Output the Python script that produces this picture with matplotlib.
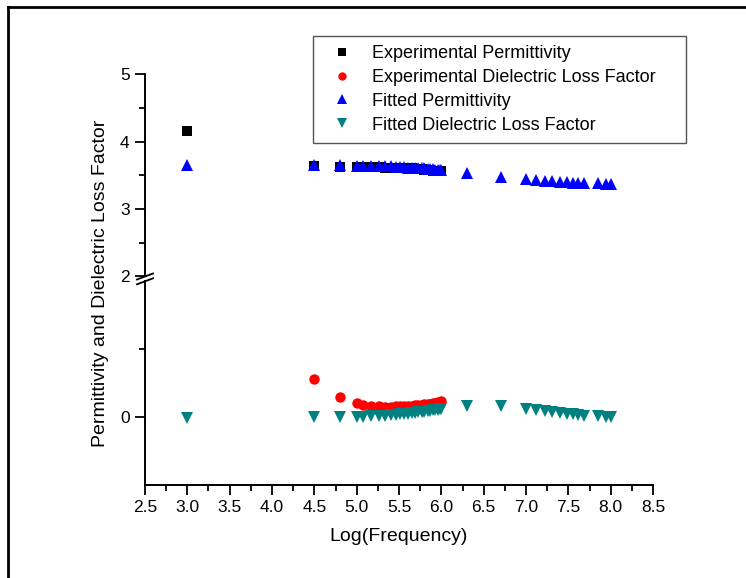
import numpy as np
import matplotlib
matplotlib.use("Agg")
import matplotlib.pyplot as plt
from matplotlib.lines import Line2D
from matplotlib.ticker import MultipleLocator, FixedLocator

plt.rcParams["font.family"] = ["Liberation Sans", "DejaVu Sans"]

# log10 of frequency
x_exp = [3.0, 4.5, 4.8, 5.0, 5.08, 5.17, 5.26, 5.34, 5.40, 5.46, 5.51, 5.56,
         5.61, 5.65, 5.69, 5.73, 5.77, 5.80, 5.84, 5.87, 5.90, 5.93, 5.96, 5.98, 6.0]
x_fit = x_exp + [6.3, 6.7, 7.0, 7.12, 7.22, 7.31, 7.40, 7.48, 7.56, 7.62, 7.69,
                 7.85, 7.95, 8.0]

exp_perm = [4.15, 3.63, 3.62, 3.62, 3.62, 3.62, 3.62, 3.61, 3.61, 3.61, 3.61, 3.60,
            3.60, 3.60, 3.59, 3.59, 3.59, 3.58, 3.58, 3.58, 3.57, 3.57, 3.57, 3.56, 3.56]
exp_loss = [np.nan, 0.28, 0.15, 0.107, 0.09, 0.082, 0.079, 0.078, 0.078, 0.079, 0.080,
            0.081, 0.083, 0.085, 0.087, 0.089, 0.092, 0.094, 0.097, 0.100, 0.103,
            0.106, 0.110, 0.113, 0.117]
fit_perm = [3.65, 3.65, 3.65, 3.64, 3.64, 3.64, 3.63, 3.63, 3.63, 3.62, 3.62, 3.62,
            3.61, 3.61, 3.61, 3.60, 3.60, 3.60, 3.59, 3.59, 3.59, 3.58, 3.58, 3.58, 3.58,
            3.54, 3.47, 3.44, 3.43, 3.42, 3.41, 3.40, 3.40, 3.39, 3.39, 3.38, 3.38,
            3.37, 3.37]
fit_loss = [-0.01, 0.0, 0.0, 0.0, 0.002, 0.005, 0.008, 0.011, 0.014, 0.017, 0.020,
            0.023, 0.026, 0.029, 0.032, 0.035, 0.038, 0.041, 0.044, 0.047, 0.050,
            0.053, 0.055, 0.058, 0.060,
            0.08, 0.08, 0.06, 0.052, 0.045, 0.040, 0.032, 0.026, 0.020, 0.015, 0.010,
            0.005, 0.0, 0.0]

W, H = 746, 578
fig = plt.figure(figsize=(W / 100, H / 100), dpi=100)

def rect(x0, y0, x1, y1):
    return [x0 / W, 1 - y1 / H, (x1 - x0) / W, (y1 - y0) / H]

ax_top = fig.add_axes(rect(145, 74, 653, 276.5))
ax_bot = fig.add_axes(rect(145, 281.3, 653, 485))

styles = [
    ("Experimental Permittivity", "s", "black", 6.5),
    ("Experimental Dielectric Loss Factor", "o", "red", 7.5),
    ("Fitted Permittivity", "^", "blue", 9),
    ("Fitted Dielectric Loss Factor", "v", "#008080", 9),
]
series = [(x_exp, exp_perm), (x_exp, exp_loss), (x_fit, fit_perm), (x_fit, fit_loss)]

handles = []
for (lab, m, c, ms), (xs, ys) in zip(styles, series):
    for ax in (ax_top, ax_bot):
        h, = ax.plot(xs, ys, ls="none", marker=m, color=c, ms=ms,
                     markeredgewidth=0, label=lab)
    handles.append(h)

ax_top.set_ylim(2, 5)
ax_bot.set_ylim(-0.5, 1.0)
for ax in (ax_top, ax_bot):
    ax.set_xlim(2.5, 8.5)
    ax.patch.set_visible(False)
    ax.spines[["top", "right"]].set_visible(False)
    ax.spines["left"].set_linewidth(1.4)
    ax.spines["bottom"].set_linewidth(1.4)
    ax.tick_params(which="major", direction="out", length=7, width=1.3,
                   labelsize=12.5, pad=4)
    ax.tick_params(which="minor", direction="out", length=4, width=1.3)

ax_top.spines["bottom"].set_visible(False)
ax_top.tick_params(axis="x", which="both", bottom=False, labelbottom=False)
ax_top.yaxis.set_major_locator(FixedLocator([2, 3, 4, 5]))
ax_top.yaxis.set_minor_locator(FixedLocator([2.5, 3.5, 4.5]))

ax_bot.yaxis.set_major_locator(FixedLocator([0]))
ax_bot.yaxis.set_minor_locator(FixedLocator([0.5]))
ax_bot.xaxis.set_major_locator(MultipleLocator(0.5))
ax_bot.xaxis.set_minor_locator(MultipleLocator(0.25))
ax_bot.xaxis.set_major_formatter(matplotlib.ticker.FormatStrFormatter("%.1f"))
ax_bot.set_xlabel("Log(Frequency)", fontsize=14, labelpad=9)

fig.text(101 / W, 1 - 283 / H, "Permittivity and Dielectric Loss Factor",
         rotation=90, ha="center", va="center", fontsize=14)

# axis break marks
for yb in (276.5, 281.3):
    fig.add_artist(Line2D([137 / W, 153 / W], [1 - (yb + 3) / H, 1 - (yb - 3) / H],
                          color="black", lw=1.3))

# outer frame (top and left)
fig.add_artist(Line2D([8 / W, 1], [1 - 6.5 / H, 1 - 6.5 / H], color="black", lw=2))
fig.add_artist(Line2D([8 / W, 8 / W], [0, 1 - 6.5 / H], color="black", lw=2))

leg = fig.legend(handles=handles, loc="upper left",
                 bbox_to_anchor=(313 / W, 1 - 139 / H, (686 - 313) / W, (139 - 36) / H),
                 mode="expand", fontsize=13, frameon=True, fancybox=False,
                 edgecolor="#555555", framealpha=1, borderpad=0.5,
                 labelspacing=0.38, handlelength=2.2, handletextpad=0.55,
                 borderaxespad=0)
leg.get_frame().set_linewidth(1.0)
for lh, (_, _, _, ms) in zip(leg.legend_handles, styles):
    lh.set_markersize(ms * 0.8)

fig.savefig("out.png", dpi=100)
